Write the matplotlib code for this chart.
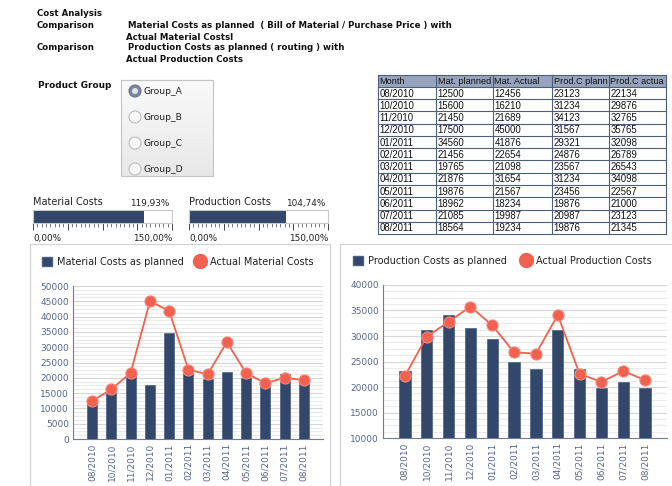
import numpy as np
import matplotlib
matplotlib.use("Agg")
import matplotlib.pyplot as plt
from matplotlib.patches import Rectangle, Circle, Patch
from matplotlib.lines import Line2D
from matplotlib.ticker import MultipleLocator
from matplotlib.colors import LinearSegmentedColormap

months = ["08/2010", "10/2010", "11/2010", "12/2010", "01/2011", "02/2011",
          "03/2011", "04/2011", "05/2011", "06/2011", "07/2011", "08/2011"]
mat_planned = [12500, 15600, 21450, 17500, 34560, 21456, 19765, 21876, 19876, 18962, 21085, 18564]
mat_actual = [12456, 16210, 21689, 45000, 41876, 22654, 21098, 31654, 21567, 18234, 19987, 19234]
prod_planned = [23123, 31234, 34123, 31567, 29321, 24876, 23567, 31234, 23456, 19876, 20987, 19876]
prod_actual = [22134, 29876, 32765, 35765, 32098, 26789, 26543, 34098, 22567, 21000, 23123, 21345]

# header cells are cut off in the original table
table_header = ["Month", "Mat. planned", "Mat. Actual", "Prod.C plann", "Prod.C actua"]
groups = ["Group_A", "Group_B", "Group_C", "Group_D"]
gauge_names = ["Material Costs", "Production Costs"]
gauge_values = [sum(mat_actual) / sum(mat_planned) * 100,
                sum(prod_actual) / sum(prod_planned) * 100]
gauge_max = 150

W, H = 672, 486
navy = "#33476b"
red = "#f2604f"
lab = "#56668a"

fig = plt.figure(figsize=(W / 100, H / 100), dpi=100)
ov = fig.add_axes([0, 0, 1, 1])
ov.set_xlim(0, W)
ov.set_ylim(H, 0)
ov.axis("off")


def fr(x0, y0, x1, y1):
    # pixel box (top-left origin) -> figure rect
    return [x0 / W, 1 - y1 / H, (x1 - x0) / W, (y1 - y0) / H]


# header
hd = dict(fontsize=6.2, fontweight="bold", va="center", color="#111111")
ov.text(37, 13, "Cost Analysis", **hd)
ov.text(37, 25, "Comparison", **hd)
ov.text(128, 25, "Material Costs as planned  ( Bill of Material / Purchase Price ) with", **hd)
ov.text(126, 37, "Actual Material Costsl", **hd)
ov.text(37, 48, "Comparison", **hd)
ov.text(128, 48, "Production Costs as planned ( routing ) with", **hd)
ov.text(126, 60, "Actual Production Costs", **hd)

# product group radio box
ov.text(38, 86, "Product Group", fontsize=6.4, fontweight="bold", va="center", color="#111111")
grad = np.linspace(0, 1, 50).reshape(-1, 1)
ov.imshow(grad, extent=(121, 213, 176, 80),
          cmap=LinearSegmentedColormap.from_list("g", ["#fafafa", "#e8e8e8"]),
          aspect="auto", zorder=1)
ov.add_patch(Rectangle((121, 80), 92, 96, fill=False, ec="#c4c4c4", lw=0.8, zorder=2))
for i, g in enumerate(groups):
    cy = 91 + i * 26
    if i == 0:
        ov.add_patch(Circle((135, cy), 6, fc="#7c879f", ec="#6b7590", lw=0.8, zorder=3))
        ov.add_patch(Circle((135, cy), 3, fc="#dfe3ec", ec="none", zorder=4))
    else:
        ov.add_patch(Circle((135, cy), 6, fc="#f8f8f8", ec="#bdbdbd", lw=0.8, zorder=3))
    ov.text(143, cy, g, fontsize=6.6, va="center", color="#222222", zorder=4)

# data table
cols = [378, 436, 493, 552, 609, 666]
top, hdr_h, row_h = 75, 12, 12.25
rows = [[m, a, b, c, d] for m, a, b, c, d in
        zip(months, mat_planned, mat_actual, prod_planned, prod_actual)]
bottom = top + hdr_h + row_h * len(rows)
ov.add_patch(Rectangle((cols[0], top), cols[-1] - cols[0], hdr_h, fc="#98a4bd", ec="none", zorder=1))
ov.add_patch(Rectangle((cols[0], top + hdr_h), cols[-1] - cols[0], bottom - top - hdr_h,
                       fc="white", ec="none", zorder=1))
tf = dict(family="Liberation Sans", va="center", color="#111111", zorder=3)
for j, h in enumerate(table_header):
    ov.text(cols[j] + 1.5, top + hdr_h / 2 + 0.5, h, fontsize=6.6, **tf)
for i, r in enumerate(rows):
    yc = top + hdr_h + row_h * (i + 0.5) + 0.5
    for j, v in enumerate(r):
        ov.text(cols[j] + 1.5, yc, str(v), fontsize=6.9, **tf)
lc = "#4e5d7c"
for x in cols:
    ov.plot([x, x], [top, bottom], color=lc, lw=0.8, zorder=2)
for k in range(len(rows) + 2):
    y = top if k == 0 else top + hdr_h + row_h * (k - 1)
    ov.plot([cols[0], cols[-1]], [y, y], color=lc, lw=0.8, zorder=2)

# gauges
gx = [(33, 172), (189, 328)]
for (x0, x1), name, v in zip(gx, gauge_names, gauge_values):
    ov.text(x0, 202, name, fontsize=7, va="center", color="#222222")
    ov.text(x1 - 3, 203, f"{v:.2f}".replace(".", ",") + "%", fontsize=6.4, va="center",
            ha="right", color="#222222")
    ov.text(x0, 238, "0,00%", fontsize=6.4, va="center", color="#222222")
    ov.text(x1, 238, f"{gauge_max:.2f}".replace(".", ",") + "%", fontsize=6.4, va="center",
            ha="right", color="#222222")
    ga = fig.add_axes(fr(x0, 210, x1, 223))
    ga.barh(0, v, height=1, color=navy, zorder=2)
    ga.set_xlim(0, gauge_max)
    ga.set_ylim(-0.5, 0.5)
    ga.set_yticks([])
    ga.xaxis.set_major_locator(MultipleLocator(gauge_max / 4))
    ga.xaxis.set_minor_locator(MultipleLocator(gauge_max / 32))
    ga.tick_params(axis="x", which="major", length=5, width=0.7, color="#444444", labelbottom=False, pad=0)
    ga.tick_params(axis="x", which="minor", length=3, width=0.6, color="#666666")
    for s in ga.spines.values():
        s.set_color("#c8c8c8")
        s.set_linewidth(0.8)

# chart panels
ov.add_patch(Rectangle((30, 244), 300, 250, fc="white", ec="#d0d0d0", lw=0.8, zorder=1))
ov.add_patch(Rectangle((340, 244), 340, 250, fc="white", ec="#d0d0d0", lw=0.8, zorder=1))


def chart(rect, planned, actual, ylim, step, names, leg_xy, colsp):
    ax = fig.add_axes(rect)
    ax.set_facecolor("none")
    x = np.arange(len(months))
    ax.bar(x, planned, width=0.52, color=navy, edgecolor="#4a5f85", linewidth=0.5, zorder=2)
    ax.plot(x, actual, color=red, lw=1.3, marker="o", ms=8, mfc=red, mec="#f48878",
            mew=0.8, zorder=3)
    ax.set_xlim(-1, 12)
    ax.set_ylim(*ylim)
    ax.yaxis.set_major_locator(MultipleLocator(step))
    ax.yaxis.set_minor_locator(MultipleLocator(step / 4))
    ax.grid(axis="y", which="major", color="#d6d6d6", lw=0.8)
    ax.grid(axis="y", which="minor", color="#ebebeb", lw=0.8)
    ax.set_axisbelow(True)
    for s in ["top", "right"]:
        ax.spines[s].set_visible(False)
    for s in ["left", "bottom"]:
        ax.spines[s].set_color("#6f7d99")
        ax.spines[s].set_linewidth(0.8)
    ax.set_xticks(x, months, rotation=90)
    ax.tick_params(axis="both", which="both", length=0, labelsize=6.5, labelcolor=lab, pad=3)
    handles = [Patch(facecolor=navy, edgecolor="#4a5f85"),
               Line2D([], [], marker="o", ls="", ms=10, color=red)]
    ax.legend(handles, names, loc="center left", ncol=2, frameon=False,
              bbox_to_anchor=(leg_xy[0] / W, 1 - leg_xy[1] / H), bbox_transform=fig.transFigure,
              borderaxespad=0, borderpad=0, handlelength=1.0, handleheight=1.0,
              handletextpad=0.5, columnspacing=colsp, prop={"size": 7},
              labelcolor="#222222")
    return ax


chart(fr(73, 286, 323, 439), mat_planned, mat_actual, (0, 50000), 5000,
      ["Material Costs as planned", "Actual Material Costs"], (42, 262), 1.2)
chart(fr(383, 285, 667, 438), prod_planned, prod_actual, (10000, 40000), 5000,
      ["Production Costs as planned", "Actual Production Costs"], (353, 261), 1.5)

fig.savefig("out.png", dpi=100)
